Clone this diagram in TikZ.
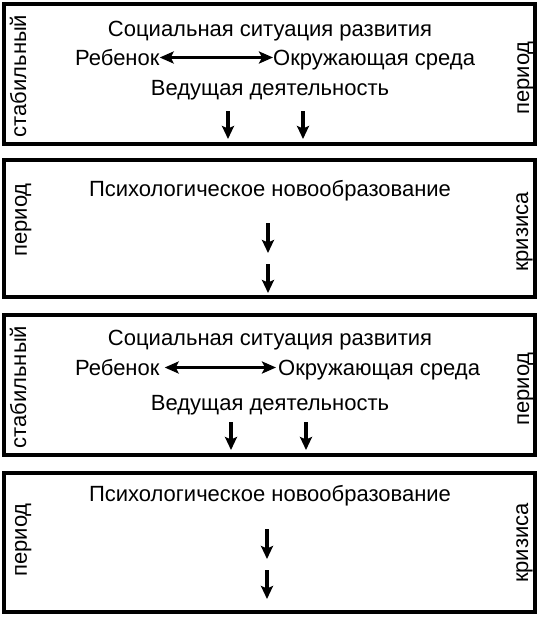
\documentclass[tikz,border=0pt]{standalone}
\usepackage{fontspec}
\setmainfont{Liberation Sans}
\usetikzlibrary{arrows.meta}
\begin{document}
\begin{tikzpicture}[x=1pt,y=-1pt,
  frame/.style={draw=black,line width=4pt,inner sep=0pt,minimum width=531pt},
  txt/.style={inner sep=0pt,font=\fontsize{22}{26}\selectfont,text height=15pt,text depth=0pt},
  side/.style={inner sep=0pt,font=\fontsize{22}{26}\selectfont,rotate=90,anchor=base},
  darr/.style={line width=3.4pt,-{Stealth[length=13pt,width=12pt,inset=2.5pt]}},
  harr/.style={line width=3.4pt,{Stealth[length=14pt,width=12pt,inset=3pt]}-{Stealth[length=14pt,width=12pt,inset=3pt]}}]
\useasboundingbox (0,0) rectangle (543,619);
% boxes
\node[frame,minimum height=140pt] (b1) at (269.5,74) {};
\node[frame,minimum height=137pt] (b2) at (269.5,228.5) {};
\node[frame,minimum height=140pt] (b3) at (269.5,385) {};
\node[frame,minimum height=139pt] (b4) at (269.5,542.5) {};
% box 1
\node[txt,anchor=base] (t1) at (270,36) {Социальная ситуация развития};
\node[txt,anchor=base west] (r1) at (75,65) {Ребенок};
\node[txt,anchor=base west] (o1) at (273,65) {Окружающая среда};
\draw[harr] (r1.east) -- (o1.west);
\node[txt,anchor=base] (v1) at (270,95) {Ведущая деятельность};
\coordinate (d1a) at (228,111); \coordinate (d1b) at (228,139);
\coordinate (d2a) at (303,111); \coordinate (d2b) at (303,139);
\draw[darr] (d1a) -- (d1b);
\draw[darr] (d2a) -- (d2b);
\node[side] (s1) at (26,76) {стабильный};
\node[side] (p1) at (529,78) {период};
% box 2
\node[txt,anchor=base] (n2) at (270,196.5) {Психологическое новообразование};
\coordinate (e1a) at (268,223); \coordinate (e1b) at (268,253);
\coordinate (e2a) at (268,264); \coordinate (e2b) at (268,293);
\draw[darr] (e1a) -- (e1b);
\draw[darr] (e2a) -- (e2b);
\node[side] (p2) at (27,220) {период};
\node[side] (k2) at (528,232) {кризиса};
% box 3
\node[txt,anchor=base] (t3) at (270,345) {Социальная ситуация развития};
\node[txt,anchor=base west] (r3) at (75,375) {Ребенок};
\node[txt,anchor=base west] (o3) at (278,375) {Окружающая среда};
\draw[harr] ([xshift=5pt]r3.east) -- ([xshift=-2pt]o3.west);
\node[txt,anchor=base] (v3) at (270,410) {Ведущая деятельность};
\coordinate (f1a) at (231,422); \coordinate (f1b) at (231,450);
\coordinate (f2a) at (306,422); \coordinate (f2b) at (306,450);
\draw[darr] (f1a) -- (f1b);
\draw[darr] (f2a) -- (f2b);
\node[side] (s3) at (26,387) {стабильный};
\node[side] (p3) at (529,389) {период};
% box 4
\node[txt,anchor=base] (n4) at (270,501) {Психологическое новообразование};
\coordinate (g1a) at (267,529); \coordinate (g1b) at (267,559);
\coordinate (g2a) at (267,570); \coordinate (g2b) at (267,599);
\draw[darr] (g1a) -- (g1b);
\draw[darr] (g2a) -- (g2b);
\node[side] (p4) at (27,540) {период};
\node[side] (k4) at (528,543) {кризиса};
\end{tikzpicture}
\end{document}
